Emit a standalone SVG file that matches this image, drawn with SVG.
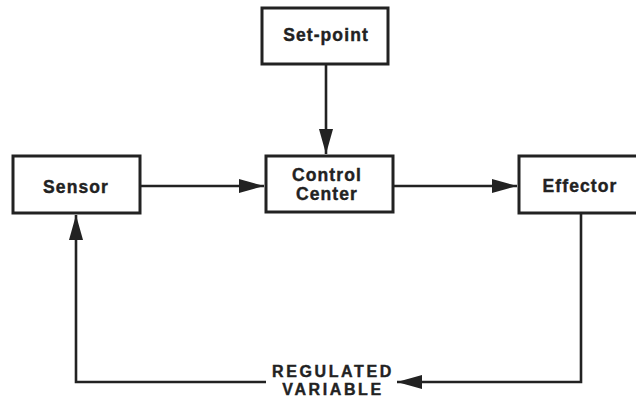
<svg xmlns="http://www.w3.org/2000/svg" width="636" height="397" viewBox="0 0 636 397">
<defs>
<style>
.box{fill:#fff;stroke:#222;stroke-width:3}
.lbl{font-family:"Liberation Sans",Arial,sans-serif;font-weight:bold;font-size:17.5px;fill:#222;stroke:#222;stroke-width:0.4;text-anchor:middle;letter-spacing:1.1px}
.rv{font-size:16px;letter-spacing:2.6px}
.conn{fill:none;stroke:#222;stroke-width:2.6}
</style>
<marker id="ah" markerUnits="userSpaceOnUse" markerWidth="26" markerHeight="14" refX="25" refY="7" orient="auto">
<path d="M0,0 L25,7 L0,14 z" fill="#222"/>
</marker>
</defs>
<rect width="636" height="397" fill="#fff"/>
<g id="connectors">
<line class="conn" x1="326" y1="64" x2="326" y2="154" marker-end="url(#ah)"/>
<line class="conn" x1="140" y1="186" x2="264" y2="186" marker-end="url(#ah)"/>
<line class="conn" x1="393" y1="186" x2="517" y2="186" marker-end="url(#ah)"/>
<polyline class="conn" points="581,213 581,382 397,382" marker-end="url(#ah)"/>
<polyline class="conn" points="266,382 76,382 76,215" marker-end="url(#ah)"/>
</g>
<g id="setpoint">
<rect class="box" x="262" y="8" width="126" height="56"/>
<text class="lbl" x="326" y="41">Set-point</text>
</g>
<g id="sensor">
<rect class="box" x="13" y="156" width="127" height="57"/>
<text class="lbl" x="76" y="193">Sensor</text>
</g>
<g id="control">
<rect class="box" x="266" y="156" width="127" height="56"/>
<text class="lbl" x="327" y="181">Control</text>
<text class="lbl" x="327" y="200">Center</text>
</g>
<g id="effector">
<rect class="box" x="519" y="156" width="125" height="57"/>
<text class="lbl" x="580" y="192">Effector</text>
</g>
<g id="regulated">
<text class="lbl rv" x="333" y="377">REGULATED</text>
<text class="lbl rv" x="333" y="395">VARIABLE</text>
</g>
</svg>
